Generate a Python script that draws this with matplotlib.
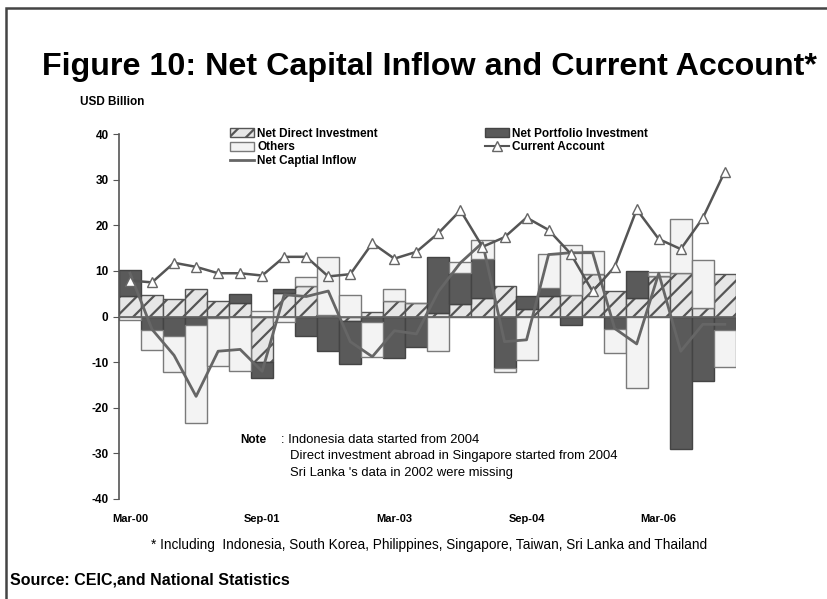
import numpy as np
import matplotlib.pyplot as plt
from matplotlib.patches import Rectangle, Patch
from matplotlib.lines import Line2D

# quarterly data, Mar-00 .. Dec-06 (USD billion)
quarters = ['Mar-00', 'Jun-00', 'Sep-00', 'Dec-00', 'Mar-01', 'Jun-01', 'Sep-01',
            'Dec-01', 'Mar-02', 'Jun-02', 'Sep-02', 'Dec-02', 'Mar-03', 'Jun-03',
            'Sep-03', 'Dec-03', 'Mar-04', 'Jun-04', 'Sep-04', 'Dec-04', 'Mar-05',
            'Jun-05', 'Sep-05', 'Dec-05', 'Mar-06', 'Jun-06', 'Sep-06', 'Dec-06']
direct = [4.6, 4.8, 3.9, 6.0, 3.5, 2.9, -9.9, 5.2, 6.6, 0.4, -1.0, 1.0, 3.4, 2.9,
          0.7, 2.7, 4.1, 6.6, 1.6, 4.5, 4.7, 9.4, 5.5, 4.1, 8.8, 9.5, 1.9, 9.3]
portfolio = [5.6, -2.9, -4.2, -1.9, -0.4, 2.1, -3.5, 0.9, -4.2, -7.5, -9.3, -1.2, -9.1, -6.7,
             12.4, 6.8, 8.6, -11.2, 2.9, 1.8, -1.8, 0.0, -2.7, 6.0, 0.0, -29.0, -14.2, -2.9]
others = [-0.7, -4.5, -8.0, -21.5, -10.4, -11.9, 1.2, -1.3, 2.0, 12.7, 4.8, -7.7, 2.6, 0.0,
          -7.6, 2.5, 4.0, -0.9, -9.6, 7.5, 11.1, 4.9, -5.2, -15.7, 1.0, 11.9, 10.6, -8.1]
net_inflow = [9.5, -2.8, -8.5, -17.5, -7.6, -7.2, -12.0, 4.8, 4.4, 5.6, -5.5, -8.8, -3.1, -3.8,
              5.5, 11.8, 16.2, -5.5, -5.1, 13.6, 14.0, 14.0, -2.6, -6.0, 9.5, -7.6, -1.7, -1.7]
current_account = [7.9, 7.5, 11.8, 10.9, 9.5, 9.5, 9.0, 13.1, 13.1, 8.8, 9.3, 16.1, 12.7, 14.2,
                   18.3, 23.3, 15.3, 17.4, 21.7, 19.0, 13.8, 5.5, 10.9, 23.5, 17.0, 14.8, 21.6, 31.8]
tick_labels = ['Mar-00', 'Sep-01', 'Mar-03', 'Sep-04', 'Mar-06']

plt.rcParams['font.family'] = ['Liberation Sans', 'DejaVu Sans']
plt.rcParams['hatch.linewidth'] = 1.6
plt.rcParams['axes.unicode_minus'] = False

fig = plt.figure(figsize=(8.28, 5.99), dpi=100)
ax = fig.add_axes([0.1437, 0.167, 0.745, 0.609])

x = np.arange(len(quarters))
pos_base = np.zeros(len(x))
neg_base = np.zeros(len(x))

styles = [
    (direct, dict(facecolor='#e6e6e6', edgecolor='#555555', hatch='//')),
    (portfolio, dict(facecolor='#5a5a5a', edgecolor='#444444')),
    (others, dict(facecolor='#f3f3f3', edgecolor='#7a7a7a')),
]
for vals, st in styles:
    v = np.array(vals)
    bottom = np.where(v >= 0, pos_base, neg_base)
    ax.bar(x, v, width=1.0, bottom=bottom, linewidth=1.0, zorder=2, **st)
    pos_base += np.where(v >= 0, v, 0)
    neg_base += np.where(v < 0, v, 0)

ax.axhline(0, color='#666666', lw=1.2, zorder=3)
ax.plot(x, net_inflow, color='#666666', lw=2.0, zorder=4)
ax.plot(x, current_account, color='#555555', lw=1.8, marker='^', markersize=7,
        markerfacecolor='white', markeredgecolor='#666666', markeredgewidth=1.0, zorder=5)

ax.set_xlim(-0.5, len(x) - 0.5)
ax.set_ylim(-40, 40)
ax.set_yticks(range(-40, 41, 10))
ax.set_xticks(x[::6])
ax.set_xticklabels(tick_labels)
for s in ['top', 'right', 'bottom']:
    ax.spines[s].set_visible(False)
ax.spines['left'].set_color('#555555')
ax.spines['left'].set_linewidth(1.2)
ax.tick_params(axis='x', length=0, pad=11, labelsize=8)
ax.tick_params(axis='y', length=4, color='#555555', labelsize=8.5)
for lab in ax.get_xticklabels() + ax.get_yticklabels():
    lab.set_fontweight('bold')

# legends
h_direct = Patch(facecolor='#e6e6e6', edgecolor='#555555', hatch='//')
h_others = Patch(facecolor='#f3f3f3', edgecolor='#7a7a7a')
h_net = Line2D([], [], color='#666666', lw=2.0)
h_port = Patch(facecolor='#5a5a5a', edgecolor='#444444')
h_ca = Line2D([], [], color='#555555', lw=1.5, marker='^', markersize=7,
              markerfacecolor='white', markeredgecolor='#666666')
lg_kw = dict(frameon=False, prop={'weight': 'bold', 'size': 8.5}, handlelength=2.0,
             handleheight=0.8, handletextpad=0.3, labelspacing=0.15, borderaxespad=0)
leg1 = fig.legend([h_direct, h_others, h_net],
                  ['Net Direct Investment', 'Others', 'Net Captial Inflow'],
                  loc='upper left', bbox_to_anchor=(0.272, 0.795), **lg_kw)
leg2 = fig.legend([h_port, h_ca], ['Net Portfolio Investment', 'Current Account'],
                  loc='upper left', bbox_to_anchor=(0.58, 0.795), **lg_kw)

# titles and notes
fig.text(0.519, 0.888, 'Figure 10: Net Capital Inflow and Current Account*',
         ha='center', va='center', fontsize=23.2, fontweight='bold')
fig.text(0.097, 0.829, 'USD Billion', ha='left', va='center', fontsize=8.5, fontweight='bold')

fig.text(0.29, 0.265, 'Note', ha='left', va='center', fontsize=8.5, fontweight='bold')
fig.text(0.339, 0.265, ': Indonesia data started from 2004', ha='left', va='center', fontsize=9.4)
fig.text(0.35, 0.238, 'Direct investment abroad in Singapore started from 2004',
         ha='left', va='center', fontsize=9.4)
fig.text(0.35, 0.210, "Sri Lanka 's data in 2002 were missing",
         ha='left', va='center', fontsize=9.4)

fig.text(0.518, 0.09, '* Including  Indonesia, South Korea, Philippines, Singapore, Taiwan, Sri Lanka and Thailand',
         ha='center', va='center', fontsize=9.8)
fig.text(0.012, 0.032, 'Source: CEIC,and National Statistics', ha='left', va='center',
         fontsize=11.5, fontweight='bold')

# frame around the whole figure
fig.patches.append(Rectangle((0.007, -0.02), 1.0, 1.007, transform=fig.transFigure,
                             fill=False, edgecolor='#444444', lw=1.8))

fig.savefig('out.png', dpi=100)
